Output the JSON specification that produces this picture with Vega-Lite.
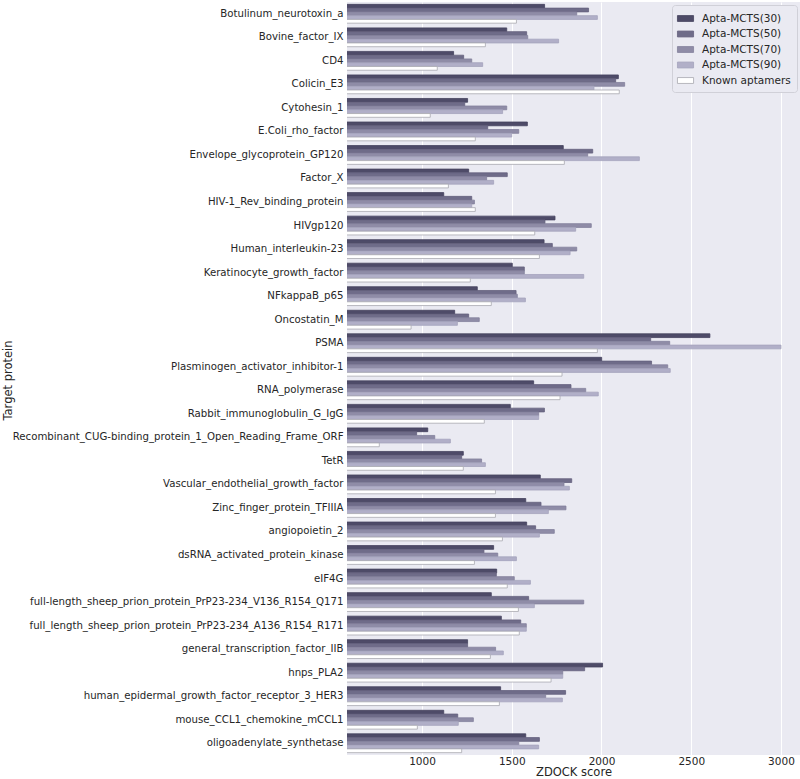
{
  "$schema": "https://vega.github.io/schema/vega-lite/v6.json",
  "autosize": "none",
  "padding": {"left": 347, "top": 2, "right": 0, "bottom": 24},
  "width": 453,
  "height": 753,
  "background": "white",
  "config": {
    "font": "DejaVu Sans",
    "view": {"fill": "#eaeaf2", "stroke": null},
    "axis": {"labelFont": "DejaVu Sans", "titleFont": "DejaVu Sans", "labelColor": "#262626", "titleColor": "#262626", "titleFontWeight": "normal", "domain": false, "ticks": false}
  },
  "datasets": {
    "scores": [
      {"protein": "Botulinum_neurotoxin_a", "model": "Apta-MCTS(30)", "score": 1683},
      {"protein": "Botulinum_neurotoxin_a", "model": "Apta-MCTS(50)", "score": 1928},
      {"protein": "Botulinum_neurotoxin_a", "model": "Apta-MCTS(70)", "score": 1862},
      {"protein": "Botulinum_neurotoxin_a", "model": "Apta-MCTS(90)", "score": 1977},
      {"protein": "Botulinum_neurotoxin_a", "model": "Known aptamers", "score": 1526},
      {"protein": "Bovine_factor_IX", "model": "Apta-MCTS(30)", "score": 1472},
      {"protein": "Bovine_factor_IX", "model": "Apta-MCTS(50)", "score": 1583},
      {"protein": "Bovine_factor_IX", "model": "Apta-MCTS(70)", "score": 1589},
      {"protein": "Bovine_factor_IX", "model": "Apta-MCTS(90)", "score": 1761},
      {"protein": "Bovine_factor_IX", "model": "Known aptamers", "score": 1353},
      {"protein": "CD4", "model": "Apta-MCTS(30)", "score": 1176},
      {"protein": "CD4", "model": "Apta-MCTS(50)", "score": 1232},
      {"protein": "CD4", "model": "Apta-MCTS(70)", "score": 1277},
      {"protein": "CD4", "model": "Apta-MCTS(90)", "score": 1338},
      {"protein": "CD4", "model": "Known aptamers", "score": 1085},
      {"protein": "Colicin_E3", "model": "Apta-MCTS(30)", "score": 2094},
      {"protein": "Colicin_E3", "model": "Apta-MCTS(50)", "score": 2079},
      {"protein": "Colicin_E3", "model": "Apta-MCTS(70)", "score": 2129},
      {"protein": "Colicin_E3", "model": "Apta-MCTS(90)", "score": 1958},
      {"protein": "Colicin_E3", "model": "Known aptamers", "score": 2099},
      {"protein": "Cytohesin_1", "model": "Apta-MCTS(30)", "score": 1254},
      {"protein": "Cytohesin_1", "model": "Apta-MCTS(50)", "score": 1238},
      {"protein": "Cytohesin_1", "model": "Apta-MCTS(70)", "score": 1472},
      {"protein": "Cytohesin_1", "model": "Apta-MCTS(90)", "score": 1449},
      {"protein": "Cytohesin_1", "model": "Known aptamers", "score": 1046},
      {"protein": "E.Coli_rho_factor", "model": "Apta-MCTS(30)", "score": 1587},
      {"protein": "E.Coli_rho_factor", "model": "Apta-MCTS(50)", "score": 1366},
      {"protein": "E.Coli_rho_factor", "model": "Apta-MCTS(70)", "score": 1539},
      {"protein": "E.Coli_rho_factor", "model": "Apta-MCTS(90)", "score": 1500},
      {"protein": "E.Coli_rho_factor", "model": "Known aptamers", "score": 1297},
      {"protein": "Envelope_glycoprotein_GP120", "model": "Apta-MCTS(30)", "score": 1787},
      {"protein": "Envelope_glycoprotein_GP120", "model": "Apta-MCTS(50)", "score": 1951},
      {"protein": "Envelope_glycoprotein_GP120", "model": "Apta-MCTS(70)", "score": 1923},
      {"protein": "Envelope_glycoprotein_GP120", "model": "Apta-MCTS(90)", "score": 2211},
      {"protein": "Envelope_glycoprotein_GP120", "model": "Known aptamers", "score": 1793},
      {"protein": "Factor_X", "model": "Apta-MCTS(30)", "score": 1260},
      {"protein": "Factor_X", "model": "Apta-MCTS(50)", "score": 1475},
      {"protein": "Factor_X", "model": "Apta-MCTS(70)", "score": 1360},
      {"protein": "Factor_X", "model": "Apta-MCTS(90)", "score": 1399},
      {"protein": "Factor_X", "model": "Known aptamers", "score": 1147},
      {"protein": "HIV-1_Rev_binding_protein", "model": "Apta-MCTS(30)", "score": 1121},
      {"protein": "HIV-1_Rev_binding_protein", "model": "Apta-MCTS(50)", "score": 1277},
      {"protein": "HIV-1_Rev_binding_protein", "model": "Apta-MCTS(70)", "score": 1292},
      {"protein": "HIV-1_Rev_binding_protein", "model": "Apta-MCTS(90)", "score": 1277},
      {"protein": "HIV-1_Rev_binding_protein", "model": "Known aptamers", "score": 1297},
      {"protein": "HIVgp120", "model": "Apta-MCTS(30)", "score": 1741},
      {"protein": "HIVgp120", "model": "Apta-MCTS(50)", "score": 1685},
      {"protein": "HIVgp120", "model": "Apta-MCTS(70)", "score": 1943},
      {"protein": "HIVgp120", "model": "Apta-MCTS(90)", "score": 1856},
      {"protein": "HIVgp120", "model": "Known aptamers", "score": 1628},
      {"protein": "Human_interleukin-23", "model": "Apta-MCTS(30)", "score": 1680},
      {"protein": "Human_interleukin-23", "model": "Apta-MCTS(50)", "score": 1726},
      {"protein": "Human_interleukin-23", "model": "Apta-MCTS(70)", "score": 1862},
      {"protein": "Human_interleukin-23", "model": "Apta-MCTS(90)", "score": 1825},
      {"protein": "Human_interleukin-23", "model": "Known aptamers", "score": 1654},
      {"protein": "Keratinocyte_growth_factor", "model": "Apta-MCTS(30)", "score": 1503},
      {"protein": "Keratinocyte_growth_factor", "model": "Apta-MCTS(50)", "score": 1570},
      {"protein": "Keratinocyte_growth_factor", "model": "Apta-MCTS(70)", "score": 1570},
      {"protein": "Keratinocyte_growth_factor", "model": "Apta-MCTS(90)", "score": 1901},
      {"protein": "Keratinocyte_growth_factor", "model": "Known aptamers", "score": 1269},
      {"protein": "NFkappaB_p65", "model": "Apta-MCTS(30)", "score": 1308},
      {"protein": "NFkappaB_p65", "model": "Apta-MCTS(50)", "score": 1524},
      {"protein": "NFkappaB_p65", "model": "Apta-MCTS(70)", "score": 1531},
      {"protein": "NFkappaB_p65", "model": "Apta-MCTS(90)", "score": 1576},
      {"protein": "NFkappaB_p65", "model": "Known aptamers", "score": 1386},
      {"protein": "Oncostatin_M", "model": "Apta-MCTS(30)", "score": 1182},
      {"protein": "Oncostatin_M", "model": "Apta-MCTS(50)", "score": 1260},
      {"protein": "Oncostatin_M", "model": "Apta-MCTS(70)", "score": 1319},
      {"protein": "Oncostatin_M", "model": "Apta-MCTS(90)", "score": 1197},
      {"protein": "Oncostatin_M", "model": "Known aptamers", "score": 939},
      {"protein": "PSMA", "model": "Apta-MCTS(30)", "score": 2604},
      {"protein": "PSMA", "model": "Apta-MCTS(50)", "score": 2274},
      {"protein": "PSMA", "model": "Apta-MCTS(70)", "score": 2380},
      {"protein": "PSMA", "model": "Apta-MCTS(90)", "score": 3000},
      {"protein": "PSMA", "model": "Known aptamers", "score": 1977},
      {"protein": "Plasminogen_activator_inhibitor-1", "model": "Apta-MCTS(30)", "score": 2001},
      {"protein": "Plasminogen_activator_inhibitor-1", "model": "Apta-MCTS(50)", "score": 2279},
      {"protein": "Plasminogen_activator_inhibitor-1", "model": "Apta-MCTS(70)", "score": 2369},
      {"protein": "Plasminogen_activator_inhibitor-1", "model": "Apta-MCTS(90)", "score": 2383},
      {"protein": "Plasminogen_activator_inhibitor-1", "model": "Known aptamers", "score": 1780},
      {"protein": "RNA_polymerase", "model": "Apta-MCTS(30)", "score": 1622},
      {"protein": "RNA_polymerase", "model": "Apta-MCTS(50)", "score": 1830},
      {"protein": "RNA_polymerase", "model": "Apta-MCTS(70)", "score": 1912},
      {"protein": "RNA_polymerase", "model": "Apta-MCTS(90)", "score": 1982},
      {"protein": "RNA_polymerase", "model": "Known aptamers", "score": 1769},
      {"protein": "Rabbit_immunoglobulin_G_IgG", "model": "Apta-MCTS(30)", "score": 1492},
      {"protein": "Rabbit_immunoglobulin_G_IgG", "model": "Apta-MCTS(50)", "score": 1682},
      {"protein": "Rabbit_immunoglobulin_G_IgG", "model": "Apta-MCTS(70)", "score": 1650},
      {"protein": "Rabbit_immunoglobulin_G_IgG", "model": "Apta-MCTS(90)", "score": 1650},
      {"protein": "Rabbit_immunoglobulin_G_IgG", "model": "Known aptamers", "score": 1347},
      {"protein": "Recombinant_CUG-binding_protein_1_Open_Reading_Frame_ORF", "model": "Apta-MCTS(30)", "score": 1032},
      {"protein": "Recombinant_CUG-binding_protein_1_Open_Reading_Frame_ORF", "model": "Apta-MCTS(50)", "score": 970},
      {"protein": "Recombinant_CUG-binding_protein_1_Open_Reading_Frame_ORF", "model": "Apta-MCTS(70)", "score": 1071},
      {"protein": "Recombinant_CUG-binding_protein_1_Open_Reading_Frame_ORF", "model": "Apta-MCTS(90)", "score": 1158},
      {"protein": "Recombinant_CUG-binding_protein_1_Open_Reading_Frame_ORF", "model": "Known aptamers", "score": 762},
      {"protein": "TetR", "model": "Apta-MCTS(30)", "score": 1230},
      {"protein": "TetR", "model": "Apta-MCTS(50)", "score": 1221},
      {"protein": "TetR", "model": "Apta-MCTS(70)", "score": 1332},
      {"protein": "TetR", "model": "Apta-MCTS(90)", "score": 1353},
      {"protein": "TetR", "model": "Known aptamers", "score": 1230},
      {"protein": "Vascular_endothelial_growth_factor", "model": "Apta-MCTS(30)", "score": 1659},
      {"protein": "Vascular_endothelial_growth_factor", "model": "Apta-MCTS(50)", "score": 1834},
      {"protein": "Vascular_endothelial_growth_factor", "model": "Apta-MCTS(70)", "score": 1791},
      {"protein": "Vascular_endothelial_growth_factor", "model": "Apta-MCTS(90)", "score": 1821},
      {"protein": "Vascular_endothelial_growth_factor", "model": "Known aptamers", "score": 1409},
      {"protein": "Zinc_finger_protein_TFIIIA", "model": "Apta-MCTS(30)", "score": 1578},
      {"protein": "Zinc_finger_protein_TFIIIA", "model": "Apta-MCTS(50)", "score": 1663},
      {"protein": "Zinc_finger_protein_TFIIIA", "model": "Apta-MCTS(70)", "score": 1802},
      {"protein": "Zinc_finger_protein_TFIIIA", "model": "Apta-MCTS(90)", "score": 1704},
      {"protein": "Zinc_finger_protein_TFIIIA", "model": "Known aptamers", "score": 1409},
      {"protein": "angiopoietin_2", "model": "Apta-MCTS(30)", "score": 1583},
      {"protein": "angiopoietin_2", "model": "Apta-MCTS(50)", "score": 1633},
      {"protein": "angiopoietin_2", "model": "Apta-MCTS(70)", "score": 1737},
      {"protein": "angiopoietin_2", "model": "Apta-MCTS(90)", "score": 1654},
      {"protein": "angiopoietin_2", "model": "Known aptamers", "score": 1448},
      {"protein": "dsRNA_activated_protein_kinase", "model": "Apta-MCTS(30)", "score": 1399},
      {"protein": "dsRNA_activated_protein_kinase", "model": "Apta-MCTS(50)", "score": 1345},
      {"protein": "dsRNA_activated_protein_kinase", "model": "Apta-MCTS(70)", "score": 1422},
      {"protein": "dsRNA_activated_protein_kinase", "model": "Apta-MCTS(90)", "score": 1526},
      {"protein": "dsRNA_activated_protein_kinase", "model": "Known aptamers", "score": 1292},
      {"protein": "eIF4G", "model": "Apta-MCTS(30)", "score": 1416},
      {"protein": "eIF4G", "model": "Apta-MCTS(50)", "score": 1414},
      {"protein": "eIF4G", "model": "Apta-MCTS(70)", "score": 1514},
      {"protein": "eIF4G", "model": "Apta-MCTS(90)", "score": 1604},
      {"protein": "eIF4G", "model": "Known aptamers", "score": 1475},
      {"protein": "full-length_sheep_prion_protein_PrP23-234_V136_R154_Q171", "model": "Apta-MCTS(30)", "score": 1386},
      {"protein": "full-length_sheep_prion_protein_PrP23-234_V136_R154_Q171", "model": "Apta-MCTS(50)", "score": 1594},
      {"protein": "full-length_sheep_prion_protein_PrP23-234_V136_R154_Q171", "model": "Apta-MCTS(70)", "score": 1901},
      {"protein": "full-length_sheep_prion_protein_PrP23-234_V136_R154_Q171", "model": "Apta-MCTS(90)", "score": 1626},
      {"protein": "full-length_sheep_prion_protein_PrP23-234_V136_R154_Q171", "model": "Known aptamers", "score": 1537},
      {"protein": "full_length_sheep_prion_protein_PrP23-234_A136_R154_R171", "model": "Apta-MCTS(30)", "score": 1442},
      {"protein": "full_length_sheep_prion_protein_PrP23-234_A136_R154_R171", "model": "Apta-MCTS(50)", "score": 1550},
      {"protein": "full_length_sheep_prion_protein_PrP23-234_A136_R154_R171", "model": "Apta-MCTS(70)", "score": 1581},
      {"protein": "full_length_sheep_prion_protein_PrP23-234_A136_R154_R171", "model": "Apta-MCTS(90)", "score": 1581},
      {"protein": "full_length_sheep_prion_protein_PrP23-234_A136_R154_R171", "model": "Known aptamers", "score": 1542},
      {"protein": "general_transcription_factor_IIB", "model": "Apta-MCTS(30)", "score": 1254},
      {"protein": "general_transcription_factor_IIB", "model": "Apta-MCTS(50)", "score": 1254},
      {"protein": "general_transcription_factor_IIB", "model": "Apta-MCTS(70)", "score": 1410},
      {"protein": "general_transcription_factor_IIB", "model": "Apta-MCTS(90)", "score": 1453},
      {"protein": "general_transcription_factor_IIB", "model": "Known aptamers", "score": 1381},
      {"protein": "hnps_PLA2", "model": "Apta-MCTS(30)", "score": 2006},
      {"protein": "hnps_PLA2", "model": "Apta-MCTS(50)", "score": 1906},
      {"protein": "hnps_PLA2", "model": "Apta-MCTS(70)", "score": 1784},
      {"protein": "hnps_PLA2", "model": "Apta-MCTS(90)", "score": 1784},
      {"protein": "hnps_PLA2", "model": "Known aptamers", "score": 1719},
      {"protein": "human_epidermal_growth_factor_receptor_3_HER3", "model": "Apta-MCTS(30)", "score": 1438},
      {"protein": "human_epidermal_growth_factor_receptor_3_HER3", "model": "Apta-MCTS(50)", "score": 1800},
      {"protein": "human_epidermal_growth_factor_receptor_3_HER3", "model": "Apta-MCTS(70)", "score": 1689},
      {"protein": "human_epidermal_growth_factor_receptor_3_HER3", "model": "Apta-MCTS(90)", "score": 1782},
      {"protein": "human_epidermal_growth_factor_receptor_3_HER3", "model": "Known aptamers", "score": 1431},
      {"protein": "mouse_CCL1_chemokine_mCCL1", "model": "Apta-MCTS(30)", "score": 1121},
      {"protein": "mouse_CCL1_chemokine_mCCL1", "model": "Apta-MCTS(50)", "score": 1199},
      {"protein": "mouse_CCL1_chemokine_mCCL1", "model": "Apta-MCTS(70)", "score": 1286},
      {"protein": "mouse_CCL1_chemokine_mCCL1", "model": "Apta-MCTS(90)", "score": 1202},
      {"protein": "mouse_CCL1_chemokine_mCCL1", "model": "Known aptamers", "score": 974},
      {"protein": "oligoadenylate_synthetase", "model": "Apta-MCTS(30)", "score": 1578},
      {"protein": "oligoadenylate_synthetase", "model": "Apta-MCTS(50)", "score": 1654},
      {"protein": "oligoadenylate_synthetase", "model": "Apta-MCTS(70)", "score": 1539},
      {"protein": "oligoadenylate_synthetase", "model": "Apta-MCTS(90)", "score": 1650},
      {"protein": "oligoadenylate_synthetase", "model": "Known aptamers", "score": 1221}
    ]
  },
  "data": {"name": "scores"},
  "mark": {"type": "bar", "strokeWidth": 0.8, "clip": true},
  "encoding": {
    "y": {
      "field": "protein",
      "type": "nominal",
      "sort": null,
      "title": "Target protein",
      "scale": {"paddingInner": 0.2, "paddingOuter": 0.1},
      "axis": {"grid": false, "labelFontSize": 10.2, "titleFontSize": 11.5, "labelPadding": 4, "labelLimit": 400, "titleX": -339, "titleY": 378, "titleAlign": "center", "titleBaseline": "middle", "titleAngle": 270, "labelColor": "#262626"}
    },
    "yOffset": {
      "field": "model",
      "type": "nominal",
      "sort": ["Apta-MCTS(30)", "Apta-MCTS(50)", "Apta-MCTS(70)", "Apta-MCTS(90)", "Known aptamers"],
      "scale": {"paddingInner": 0, "paddingOuter": 0}
    },
    "x": {
      "field": "score",
      "type": "quantitative",
      "title": "ZDOCK score",
      "scale": {"domain": [582, 3106], "nice": false, "zero": false},
      "axis": {"values": [1000, 1500, 2000, 2500, 3000], "format": "d", "grid": true, "gridColor": "white", "gridWidth": 1, "labelFontSize": 10.5, "titleFontSize": 11.5, "labelPadding": 1, "titlePadding": 0, "labelFlush": false}
    },
    "fill": {
      "field": "model",
      "type": "nominal",
      "sort": ["Apta-MCTS(30)", "Apta-MCTS(50)", "Apta-MCTS(70)", "Apta-MCTS(90)", "Known aptamers"],
      "scale": {"domain": ["Apta-MCTS(30)", "Apta-MCTS(50)", "Apta-MCTS(70)", "Apta-MCTS(90)", "Known aptamers"], "range": ["#4e4b68", "#6f6c89", "#8f8ca7", "#b1afc8", "#ffffff"]},
      "legend": {
        "title": null,
        "orient": "top-right",
        "offset": 3,
        "labelFontSize": 10.5,
        "labelColor": "#262626",
        "labelOffset": 9,
        "symbolType": "M-1.15,-0.42H1.15V0.42H-1.15Z",
        "symbolSize": 196,
        "symbolStrokeWidth": 0.8,
        "rowPadding": 2.5,
        "padding": 6,
        "fillColor": "#eaeaf2",
        "strokeColor": "#d0d0d8",
        "cornerRadius": 3
      }
    },
    "stroke": {
      "field": "model",
      "type": "nominal",
      "scale": {"domain": ["Apta-MCTS(30)", "Apta-MCTS(50)", "Apta-MCTS(70)", "Apta-MCTS(90)", "Known aptamers"], "range": ["#45425e", "#64617e", "#83809c", "#a5a3bd", "#a8a8b0"]}
    }
  }
}
